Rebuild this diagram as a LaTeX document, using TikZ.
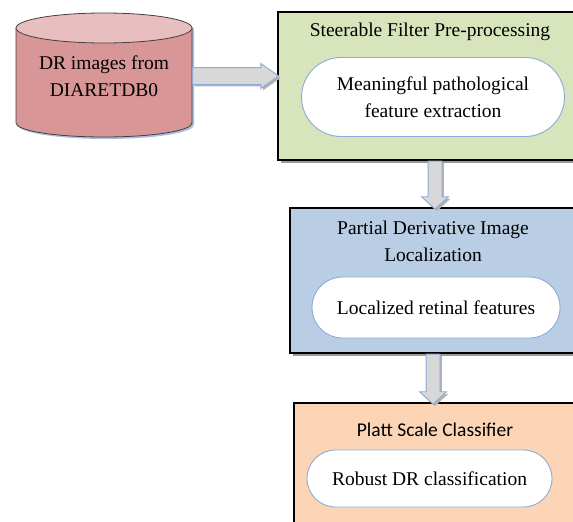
\documentclass[tikz,border=0pt]{standalone}
\usepackage{fontspec}
\setmainfont{Liberation Serif}
\newfontfamily\calibri{Carlito}
\usetikzlibrary{shapes.misc,shapes.arrows,shadows}
\definecolor{dbbody}{RGB}{217,150,150}
\definecolor{dbtop}{RGB}{233,190,190}
\definecolor{cgreen}{RGB}{215,228,188}
\definecolor{cblue}{RGB}{185,205,228}
\definecolor{corange}{RGB}{251,213,181}
\definecolor{cedge}{RGB}{140,170,215}
\definecolor{carrow}{RGB}{216,216,216}
\tikzset{
  txt/.style={font=\fontsize{19.5}{27}\selectfont,align=center,inner sep=0pt},
  % outer stage boxes: black frame, grey drop shadow
  stage/.style={rectangle,draw=black,line width=1.3pt,
    drop shadow={shadow xshift=3pt,shadow yshift=-3pt,fill=black!40,opacity=1}},
  pill/.style={rounded rectangle,draw=cedge,fill=white,line width=0.9pt,txt},
  dbline/.style={draw=black!75,line width=0.8pt},
  blk/.style={single arrow,draw=cedge,fill=carrow,line width=0.9pt,
    inner xsep=0pt,anchor=tail,single arrow head indent=0pt,
    drop shadow={shadow xshift=2pt,shadow yshift=-2pt,fill=black!30,opacity=1}}
}
\begin{document}
\begin{tikzpicture}[x=1pt,y=1pt]
 \useasboundingbox (0,0) rectangle (573,-522);
 % source database: a cylinder drawn by hand
 \fill[cedge!75,shift={(2,-2)}] (16,-28) -- (16,-123)
   arc[start angle=180,end angle=360,x radius=88,y radius=14] -- (192,-28)
   arc[start angle=0,end angle=180,x radius=88,y radius=15] -- cycle;
 \fill[dbbody] (16,-28) -- (16,-123)
   arc[start angle=180,end angle=360,x radius=88,y radius=14] -- (192,-28) -- cycle;
 \draw[dbline] (16,-28) -- (16,-123)
   arc[start angle=180,end angle=360,x radius=88,y radius=14] -- (192,-28);
 \draw[dbline,fill=dbtop] (104,-28) ellipse[x radius=88,y radius=15];
 \node[txt,minimum width=176pt,minimum height=90pt] (images) at (104,-76)
   {DR images from\\DIARETDB0};
 % stage 1
 \node[stage,fill=cgreen,minimum width=314pt,minimum height=148pt] (filter) at (435,-86) {};
 \node[txt] (filtertitle) at (430,-32) {Steerable Filter Pre-processing};
 \node[pill,minimum width=263pt,minimum height=79pt] (filterpill) at (433,-97)
   {Meaningful pathological\\feature extraction};
 % stage 2
 \node[stage,fill=cblue,minimum width=286pt,minimum height=145pt] (deriv) at (433,-280.5) {};
 \node[txt] (derivtitle) at (433,-241) {Partial Derivative Image\\Localization};
 \node[pill,minimum width=248pt,minimum height=61pt] (derivpill) at (436,-307.5)
   {Localized retinal features};
 % stage 3
 \node[stage,fill=corange,minimum width=282pt,minimum height=142pt] (platt) at (435,-474) {};
 \node[txt,font=\calibri\fontsize{19.5}{27}\selectfont] (platttitle) at (435,-430) {Platt Scale Classifier};
 \node[pill,minimum width=245pt,minimum height=57pt] (plattpill) at (429.5,-478.5)
   {Robust DR classification};
 % block arrows between the stages
 \node[blk,minimum height=86pt,inner ysep=8pt,single arrow head extend=4pt,
   single arrow tip angle=70] (toFilter) at (images.east) {};
 \node[blk,rotate=-90,minimum height=48pt,inner ysep=6.5pt,single arrow head extend=6.5pt,
   single arrow tip angle=95] (toDeriv) at (filter.south) {};
 \node[blk,rotate=-90,minimum height=50pt,inner ysep=6.5pt,single arrow head extend=6.5pt,
   single arrow tip angle=95] (toPlatt) at (deriv.south) {};
\end{tikzpicture}
\end{document}
